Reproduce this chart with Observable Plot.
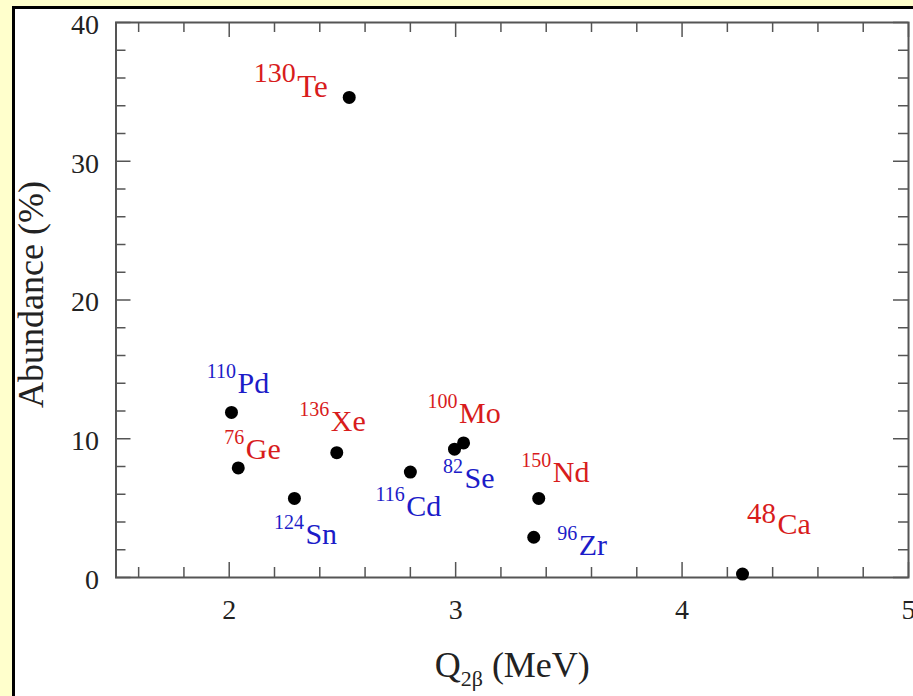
<!DOCTYPE html>
<html>
<head>
<meta charset="utf-8">
<script src="https://cdn.jsdelivr.net/npm/d3@7"></script>
<script src="https://cdn.jsdelivr.net/npm/@observablehq/plot@0.6"></script>
<style>
html, body { margin: 0; padding: 0; background: #ffffcc; width: 913px; height: 696px; overflow: hidden; }
#panel { position: absolute; left: 12px; top: 6px; width: 1000px; height: 800px; background: #ffffff; border-left: 3px solid #000; border-top: 3px solid #000; }
#chart { position: absolute; left: 0; top: 0; }
</style>
</head>
<body>
<div id="panel"></div>
<div id="chart"></div>
<script>
// ---- data ----
const element    = ["Pd", "Ge", "Sn", "Xe", "Te", "Cd", "Se", "Mo", "Zr", "Nd", "Ca"];
const massNumber = [110, 76, 124, 136, 130, 116, 82, 100, 96, 150, 48];
const qValue     = [2.01, 2.04, 2.288, 2.475, 2.53, 2.80, 2.995, 3.035, 3.345, 3.367, 4.267]; // MeV
const abundance  = [11.9, 7.9, 5.7, 9.0, 34.6, 7.6, 9.25, 9.7, 2.9, 5.7, 0.25];            // %
const group      = ["B", "A", "B", "A", "A", "B", "B", "A", "B", "A", "A"];
const groups     = ["A", "B"];

const xMajorTicks = [2, 3, 4, 5];
const xMinorTicks = [1.6, 1.8, 2.2, 2.4, 2.6, 2.8, 3.2, 3.4, 3.6, 3.8, 4.2, 4.4, 4.6, 4.8];
const yMajorTicks = [0, 10, 20, 30, 40];
const yMinorTicks = [2, 4, 6, 8, 12, 14, 16, 18, 22, 24, 26, 28, 32, 34, 36, 38];

const yLabelText = "Abundance (%)";
const xLabelMain = "Q";
const xLabelSub  = "2β";
const xLabelUnit = "(MeV)";

// ---- layout (pixels) ----
const W = 913, H = 696, mL = 115.5, mT = 22, mR = 5, mB = 119;
const fh = H - mT - mB, fw = W - mL - mR;
const axisColor = "#555";
const groupColors = ["#d81c1c", "#1c1cc8"];

const labelLayout = {
  Pd: {dx: 6,    dy: -19,   sup: -15, size: 30, supSize: 20},
  Ge: {dx: 7.5,  dy: -8.5,  sup: -15, size: 30, supSize: 20},
  Sn: {dx: 11,   dy: 46,    sup: -15, size: 30, supSize: 20},
  Xe: {dx: -6,   dy: -22,   sup: -15, size: 30, supSize: 20},
  Te: {dx: -52,  dy: 0,     sup: -15, size: 31, supSize: 28},
  Cd: {dx: -4,   dy: 43.5,  sup: -15, size: 30, supSize: 20},
  Se: {dx: 10,   dy: 39,    sup: -15, size: 30, supSize: 20},
  Mo: {dx: -4.5, dy: -19.5, sup: -15, size: 30, supSize: 20},
  Zr: {dx: 45,   dy: 18,    sup: -15, size: 30, supSize: 20},
  Nd: {dx: 14,   dy: -16,   sup: -15, size: 30, supSize: 20},
  Ca: {dx: 35,   dy: -40.5, sup: -11, size: 30, supSize: 29}
};

const idx = element.map((_, i) => i);

const labelMarks = idx.flatMap((i) => {
  const L = labelLayout[element[i]];
  const common = {x: (j) => qValue[j], y: (j) => abundance[j], fill: (j) => group[j], lineAnchor: "bottom"};
  return [
    Plot.text([i], {...common, text: (j) => element[j], textAnchor: "start", dx: L.dx, dy: L.dy, fontSize: L.size}),
    Plot.text([i], {...common, text: (j) => String(massNumber[j]), textAnchor: "end", dx: L.dx - 1.5, dy: L.dy + L.sup, fontSize: L.supSize})
  ];
});

const tickStyle = {stroke: axisColor, strokeWidth: 1.5};

const svg = Plot.plot({
  width: W, height: H,
  marginLeft: mL, marginTop: mT, marginRight: mR, marginBottom: mB,
  style: {background: "transparent", fontFamily: "'Liberation Serif', 'Times New Roman', serif"},
  x: {domain: [1.5, 5]},
  y: {domain: [0, 40]},
  color: {domain: groups, range: groupColors},
  marks: [
    // inward ticks on all four sides
    Plot.ruleX(xMinorTicks, {x: (d) => d, insetTop: fh - 10, ...tickStyle}),
    Plot.ruleX(xMinorTicks, {x: (d) => d, insetBottom: fh - 10, ...tickStyle}),
    Plot.ruleX(xMajorTicks, {x: (d) => d, insetTop: fh - 15, ...tickStyle}),
    Plot.ruleX(xMajorTicks, {x: (d) => d, insetBottom: fh - 15, ...tickStyle}),
    Plot.ruleY(yMinorTicks, {y: (d) => d, insetRight: fw - 10, ...tickStyle}),
    Plot.ruleY(yMinorTicks, {y: (d) => d, insetLeft: fw - 10, ...tickStyle}),
    Plot.ruleY(yMajorTicks, {y: (d) => d, insetRight: fw - 15, ...tickStyle}),
    Plot.ruleY(yMajorTicks, {y: (d) => d, insetLeft: fw - 15, ...tickStyle}),
    Plot.frame({stroke: axisColor, strokeWidth: 2}),
    Plot.axisX(xMajorTicks, {tickSize: 0, tickPadding: 22, fontSize: 28, color: "#222", tickFormat: d3.format("d"), label: null}),
    Plot.axisY(yMajorTicks, {tickSize: 0, tickPadding: 17, fontSize: 28, color: "#222", tickFormat: d3.format("d"), dy: 2.5, label: null}),
    Plot.dot(idx, {x: (i) => qValue[i], y: (i) => abundance[i], r: 6.5, fill: "#000"}),
    ...labelMarks,
    Plot.text([yLabelText], {text: (d) => d, frameAnchor: "left", textAnchor: "middle", rotate: -90, dx: -73.5, dy: -5.5, fontSize: 36, lineAnchor: "bottom", fill: "#222"}),
    Plot.text([xLabelMain + xLabelSub + " " + xLabelUnit], {text: (d) => d, frameAnchor: "bottom", textAnchor: "middle", dy: 99, fontSize: 36, lineAnchor: "bottom", fill: "#222"})
  ]
});

// turn the x label into real text with a subscript
const full = xLabelMain + xLabelSub + " " + xLabelUnit;
const xl = Array.from(svg.querySelectorAll("text")).find((t) => t.textContent === full);
if (xl) {
  const ns = "http://www.w3.org/2000/svg";
  xl.textContent = "";
  const a = document.createElementNS(ns, "tspan"); a.textContent = xLabelMain; xl.appendChild(a);
  const b = document.createElementNS(ns, "tspan"); b.textContent = xLabelSub; b.setAttribute("font-size", "22"); b.setAttribute("dy", "9"); xl.appendChild(b);
  const c = document.createElementNS(ns, "tspan"); c.textContent = " " + xLabelUnit; c.setAttribute("font-size", "36"); c.setAttribute("dy", "-9"); xl.appendChild(c);
}

document.getElementById("chart").appendChild(svg);
</script>
</body>
</html>
